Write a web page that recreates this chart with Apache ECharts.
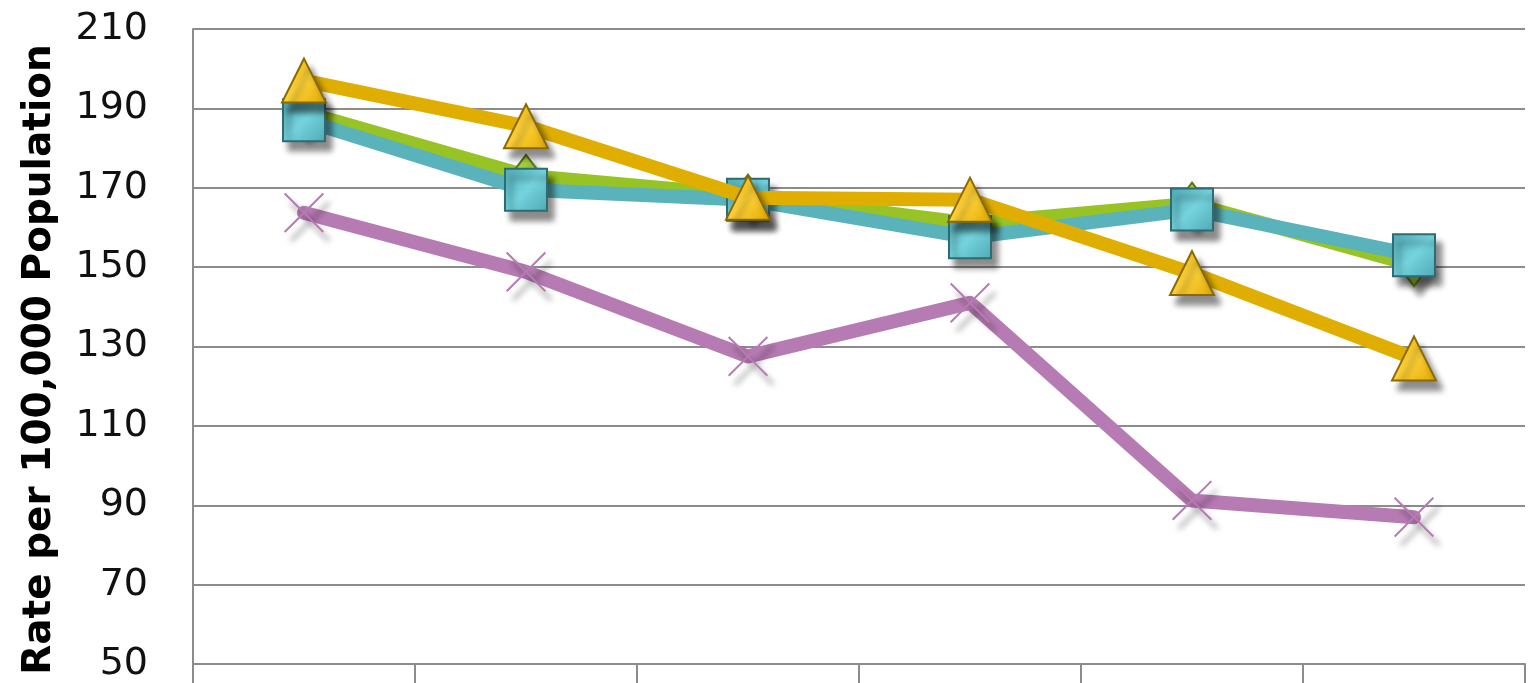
<!DOCTYPE html>
<html>
<head>
<meta charset="utf-8">
<script src="https://cdn.jsdelivr.net/npm/echarts@6/dist/echarts.min.js"></script>
<style>html,body{margin:0;padding:0;background:#fff}#c{width:1529px;height:683px}</style>
</head>
<body>
<div id="c"></div>
<script>
var categories = ['1', '2', '3', '4', '5', '6'];
var greenValues = [189, 173, 168, 161, 166, 150.5];
var tealValues = [187, 169.5, 167, 157.5, 164.5, 153];
var goldValues = [197, 185.5, 167.5, 167, 148.5, 127];
var purpleValues = [163.7, 148.8, 127.5, 141, 91.2, 87];
var yMin = 50, yMax = 210, yStep = 20;
var yTitle = 'Rate per 100,000 Population';

var shadow = {shadowBlur: 6, shadowOffsetX: 6, shadowOffsetY: 9, shadowColor: 'rgba(0,0,0,0.45)'};
function grad(c1, c2) {
  return new echarts.graphic.LinearGradient(0, 0, 1, 1, [{offset: 0, color: c1}, {offset: 0.5, color: c2}, {offset: 1, color: c1}]);
}
function mk(name, data, color, symbol, size, fill, border, z) {
  return {
    name: name, type: 'line', data: data, z: z,
    symbol: symbol, symbolSize: size,
    lineStyle: {color: color, width: 14, cap: 'round', join: 'round'},
    itemStyle: Object.assign({color: fill, borderColor: border, borderWidth: 2}, shadow),
    emphasis: {disabled: true}
  };
}
var xPath = 'path://M0,1 L1,0 L50,49 L99,0 L100,1 L51,50 L100,99 L99,100 L50,51 L1,100 L0,99 L49,50 Z';
var chart = echarts.init(document.getElementById('c'));
chart.setOption({
  animation: false,
  grid: {left: 193, right: 4, top: 29, bottom: 17},
  xAxis: {
    type: 'category', data: categories, boundaryGap: true,
    axisLine: {lineStyle: {color: '#8c8c8c', width: 2}},
    axisTick: {show: true, length: 20, lineStyle: {color: '#8c8c8c', width: 2}},
    axisLabel: {show: false}
  },
  yAxis: {
    type: 'value', min: yMin, max: yMax, interval: yStep,
    name: yTitle, nameLocation: 'middle', nameGap: 134, nameRotate: 90,
    nameTextStyle: {fontFamily: 'DejaVu Sans', fontWeight: 'bold', fontSize: 39, color: '#000', padding: [0, 26, 0, 0]},
    axisLine: {show: true, lineStyle: {color: '#8c8c8c', width: 2}},
    axisTick: {show: false},
    axisLabel: {fontFamily: 'DejaVu Sans', fontSize: 38, color: '#111', margin: 45},
    splitLine: {lineStyle: {color: '#8c8c8c', width: 2}}
  },
  series: [
    mk('Green', greenValues, '#97c424', 'diamond', [32, 42], grad('#8ab82a', '#b5e04a'), '#5a7a10', 2),
    mk('Teal', tealValues, '#5ab2bb', 'rect', 42, grad('#4fa8b2', '#74d4de'), '#2e6b73', 3),
    mk('Gold', goldValues, '#e0ae00', 'triangle', [44, 44], grad('#e0a800', '#ffd23a'), '#8a6a00', 4),
    (function () {
      var s = mk('Purple', purpleValues, '#b77bb3', xPath, 38, '#b77bb3', '#b77bb3', 1);
      s.itemStyle.borderWidth = 1.5;
      return s;
    })()
  ]
});
</script>
</body>
</html>
